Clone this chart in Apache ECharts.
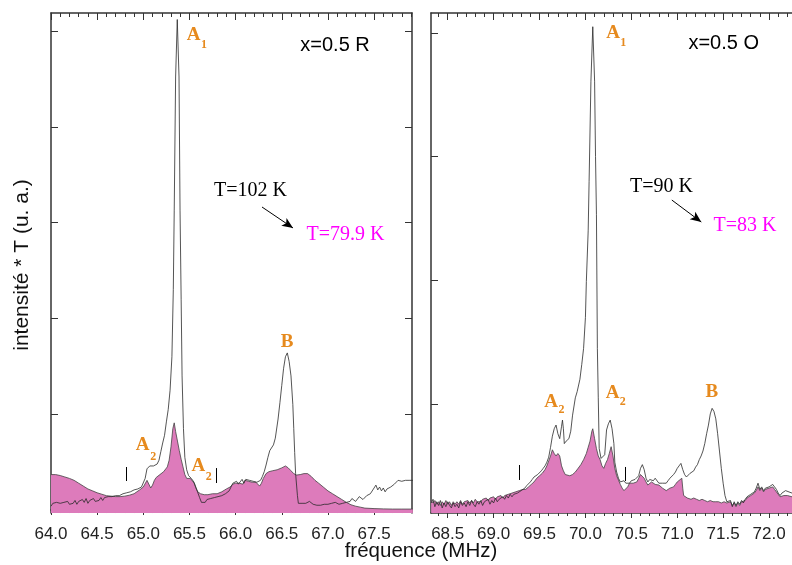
<!DOCTYPE html>
<html>
<head>
<meta charset="utf-8">
<script src="https://cdn.jsdelivr.net/npm/echarts@6/dist/echarts.min.js"></script>
<style>html,body{margin:0;padding:0;background:#fff;}#c{width:792px;height:565px;}</style>
</head>
<body>
<div id="c"></div>
<script>
// ---------- DATA ----------
// Left panel (x=0.5 R), frequency in MHz, intensity*T (u. a.)
const leftT102 = [[64.00,0.04],[64.02,0.07],[64.04,0.05],[64.06,0.08],[64.08,0.06],[64.10,0.07],[64.12,0.05],[64.14,0.08],[64.16,0.07],[64.18,0.09],[64.20,0.06],[64.22,0.08],[64.24,0.07],[64.26,0.10],[64.28,0.06],[64.30,0.09],[64.32,0.07],[64.34,0.11],[64.36,0.08],[64.38,0.12],[64.40,0.07],[64.42,0.10],[64.44,0.09],[64.46,0.12],[64.48,0.09],[64.50,0.11],[64.52,0.10],[64.54,0.13],[64.56,0.10],[64.58,0.13],[64.60,0.11],[64.62,0.14],[64.64,0.12],[64.66,0.14],[64.68,0.12],[64.70,0.15],[64.72,0.13],[64.74,0.15],[64.76,0.14],[64.78,0.17],[64.80,0.15],[64.82,0.18],[64.84,0.16],[64.86,0.19],[64.88,0.17],[64.90,0.21],[64.92,0.19],[64.94,0.22],[64.96,0.21],[64.98,0.24],[65.00,0.26],[65.02,0.33],[65.04,0.43],[65.05,0.45],[65.07,0.46],[65.09,0.44],[65.11,0.46],[65.13,0.45],[65.15,0.48],[65.17,0.52],[65.19,0.61],[65.21,0.70],[65.23,0.78],[65.25,0.92],[65.27,1.05],[65.29,1.25],[65.31,1.60],[65.325,2.30],[65.335,3.13],[65.35,4.52],[65.368,5.12],[65.387,4.52],[65.398,3.13],[65.41,2.20],[65.42,1.40],[65.435,0.85],[65.45,0.55],[65.47,0.42],[65.49,0.36],[65.52,0.33],[65.55,0.29],[65.58,0.21],[65.61,0.13],[65.63,0.08],[65.65,0.10],[65.67,0.08],[65.69,0.11],[65.71,0.10],[65.73,0.12],[65.75,0.11],[65.77,0.13],[65.79,0.12],[65.81,0.14],[65.83,0.13],[65.85,0.15],[65.87,0.14],[65.89,0.17],[65.91,0.18],[65.93,0.20],[65.95,0.24],[65.97,0.28],[65.99,0.26],[66.01,0.30],[66.03,0.27],[66.05,0.29],[66.07,0.32],[66.09,0.28],[66.11,0.32],[66.13,0.30],[66.15,0.31],[66.17,0.33],[66.19,0.30],[66.21,0.32],[66.23,0.29],[66.25,0.28],[66.27,0.31],[66.29,0.35],[66.31,0.40],[66.33,0.47],[66.35,0.55],[66.37,0.62],[66.39,0.64],[66.41,0.68],[66.43,0.75],[66.46,0.95],[66.48,1.12],[66.50,1.30],[66.52,1.48],[66.54,1.60],[66.56,1.64],[66.58,1.55],[66.60,1.40],[66.62,1.10],[66.63,0.85],[66.64,0.60],[66.65,0.38],[66.67,0.15],[66.68,0.07],[66.70,0.05],[66.72,0.07],[66.74,0.08],[66.76,0.07],[66.78,0.08],[66.80,0.09],[66.82,0.08],[66.84,0.06],[66.86,0.04],[66.88,0.05],[66.90,0.03],[66.92,0.05],[66.94,0.04],[66.96,0.06],[66.98,0.05],[67.00,0.06],[67.02,0.05],[67.04,0.07],[67.06,0.06],[67.08,0.08],[67.10,0.07],[67.12,0.06],[67.14,0.08],[67.16,0.07],[67.18,0.09],[67.20,0.08],[67.22,0.10],[67.24,0.09],[67.26,0.12],[67.28,0.10],[67.30,0.09],[67.32,0.11],[67.34,0.14],[67.36,0.12],[67.38,0.11],[67.40,0.13],[67.42,0.15],[67.44,0.14],[67.46,0.17],[67.48,0.19],[67.50,0.23],[67.52,0.26],[67.54,0.21],[67.56,0.24],[67.58,0.20],[67.60,0.23],[67.62,0.19],[67.64,0.22],[67.66,0.21],[67.68,0.24],[67.70,0.23],[67.72,0.27],[67.74,0.29],[67.76,0.31],[67.78,0.32],[67.80,0.30],[67.82,0.32],[67.84,0.31],[67.86,0.29],[67.88,0.31],[67.90,0.30],[67.92,0.31]];
const leftT79 = [[64.00,0.37],[64.05,0.37],[64.10,0.36],[64.15,0.345],[64.20,0.33],[64.25,0.31],[64.30,0.28],[64.35,0.25],[64.40,0.22],[64.45,0.20],[64.50,0.18],[64.55,0.165],[64.60,0.15],[64.65,0.145],[64.70,0.14],[64.75,0.14],[64.80,0.145],[64.85,0.155],[64.90,0.17],[64.93,0.19],[64.96,0.21],[64.98,0.22],[65.00,0.24],[65.02,0.26],[65.04,0.31],[65.05,0.33],[65.06,0.30],[65.08,0.23],[65.10,0.26],[65.12,0.31],[65.14,0.34],[65.16,0.36],[65.18,0.37],[65.20,0.39],[65.22,0.40],[65.24,0.42],[65.26,0.45],[65.28,0.52],[65.30,0.66],[65.32,0.85],[65.335,0.91],[65.35,0.82],[65.37,0.72],[65.39,0.62],[65.41,0.53],[65.43,0.45],[65.45,0.37],[65.47,0.33],[65.49,0.31],[65.51,0.33],[65.53,0.31],[65.55,0.28],[65.57,0.23],[65.59,0.19],[65.62,0.17],[65.66,0.16],[65.70,0.16],[65.75,0.17],[65.80,0.17],[65.85,0.19],[65.90,0.22],[65.94,0.24],[65.97,0.27],[66.00,0.28],[66.02,0.26],[66.04,0.28],[66.06,0.29],[66.08,0.27],[66.10,0.31],[66.12,0.32],[66.14,0.30],[66.16,0.31],[66.18,0.29],[66.20,0.31],[66.22,0.29],[66.24,0.27],[66.26,0.25],[66.28,0.28],[66.30,0.33],[66.33,0.38],[66.36,0.40],[66.40,0.41],[66.45,0.42],[66.50,0.44],[66.54,0.46],[66.57,0.44],[66.60,0.41],[66.63,0.38],[66.66,0.365],[66.70,0.37],[66.74,0.38],[66.78,0.38],[66.82,0.35],[66.86,0.31],[66.90,0.28],[66.95,0.24],[67.00,0.20],[67.05,0.17],[67.10,0.14],[67.15,0.11],[67.20,0.08],[67.25,0.055],[67.30,0.04],[67.35,0.03],[67.40,0.02],[67.50,0.015],[67.60,0.012],[67.70,0.01],[67.80,0.01],[67.92,0.01]];
// Right panel (x=0.5 O)
const rightT90 = [[68.32,0.20],[68.34,0.23],[68.36,0.17],[68.38,0.21],[68.40,0.18],[68.42,0.22],[68.44,0.16],[68.46,0.20],[68.48,0.17],[68.50,0.21],[68.52,0.18],[68.54,0.16],[68.56,0.20],[68.58,0.17],[68.60,0.19],[68.62,0.16],[68.64,0.21],[68.66,0.18],[68.68,0.20],[68.70,0.17],[68.72,0.21],[68.74,0.18],[68.76,0.22],[68.78,0.19],[68.80,0.17],[68.82,0.21],[68.84,0.19],[68.86,0.22],[68.88,0.18],[68.90,0.21],[68.92,0.20],[68.94,0.23],[68.96,0.19],[68.98,0.22],[69.00,0.20],[69.02,0.24],[69.04,0.21],[69.06,0.23],[69.08,0.22],[69.10,0.25],[69.12,0.23],[69.14,0.26],[69.16,0.24],[69.18,0.27],[69.20,0.25],[69.22,0.27],[69.24,0.26],[69.26,0.28],[69.28,0.28],[69.30,0.30],[69.32,0.31],[69.34,0.32],[69.36,0.34],[69.38,0.35],[69.40,0.37],[69.42,0.39],[69.44,0.41],[69.46,0.42],[69.48,0.43],[69.50,0.44],[69.52,0.46],[69.54,0.48],[69.56,0.50],[69.58,0.53],[69.60,0.57],[69.62,0.65],[69.64,0.74],[69.66,0.80],[69.68,0.83],[69.70,0.76],[69.72,0.72],[69.74,0.82],[69.75,0.87],[69.76,0.80],[69.77,0.68],[69.79,0.70],[69.82,0.72],[69.84,0.78],[69.86,0.91],[69.89,1.05],[69.91,1.10],[69.94,1.20],[69.96,1.32],[69.98,1.45],[70.00,1.70],[70.01,1.99],[70.03,2.40],[70.04,2.80],[70.06,3.61],[70.08,4.05],[70.10,3.61],[70.11,3.00],[70.12,2.53],[70.13,1.45],[70.14,1.05],[70.15,0.64],[70.17,0.56],[70.19,0.55],[70.21,0.59],[70.23,0.79],[70.25,0.84],[70.27,0.87],[70.29,0.80],[70.31,0.68],[70.32,0.53],[70.34,0.45],[70.36,0.40],[70.38,0.37],[70.40,0.36],[70.42,0.38],[70.44,0.36],[70.46,0.37],[70.48,0.36],[70.50,0.38],[70.52,0.37],[70.54,0.39],[70.56,0.385],[70.58,0.42],[70.60,0.48],[70.62,0.51],[70.64,0.47],[70.66,0.40],[70.68,0.37],[70.70,0.39],[70.72,0.40],[70.74,0.38],[70.76,0.40],[70.78,0.39],[70.80,0.36],[70.82,0.345],[70.84,0.36],[70.86,0.37],[70.88,0.36],[70.90,0.38],[70.92,0.40],[70.94,0.41],[70.96,0.43],[70.98,0.45],[71.00,0.48],[71.02,0.50],[71.04,0.52],[71.06,0.47],[71.08,0.43],[71.10,0.41],[71.12,0.42],[71.14,0.44],[71.16,0.43],[71.18,0.46],[71.20,0.49],[71.22,0.51],[71.24,0.55],[71.26,0.58],[71.28,0.62],[71.30,0.68],[71.32,0.76],[71.34,0.83],[71.36,0.92],[71.38,0.965],[71.40,0.94],[71.42,0.88],[71.44,0.76],[71.46,0.62],[71.48,0.48],[71.50,0.36],[71.52,0.26],[71.54,0.21],[71.56,0.20],[71.58,0.22],[71.60,0.17],[71.62,0.21],[71.64,0.18],[71.66,0.21],[71.68,0.19],[71.70,0.22],[71.72,0.20],[71.74,0.23],[71.76,0.25],[71.78,0.24],[71.80,0.27],[71.82,0.26],[71.84,0.29],[71.86,0.32],[71.88,0.36],[71.90,0.31],[71.92,0.33],[71.94,0.30],[71.96,0.32],[71.98,0.31],[72.00,0.33],[72.02,0.32],[72.04,0.35],[72.06,0.33],[72.08,0.31],[72.10,0.28],[72.12,0.26],[72.14,0.28],[72.16,0.29],[72.18,0.30],[72.20,0.29],[72.25,0.28]];
const rightT83 = [[68.32,0.22],[68.34,0.20],[68.36,0.22],[68.38,0.19],[68.40,0.21],[68.42,0.18],[68.44,0.21],[68.46,0.19],[68.48,0.22],[68.50,0.19],[68.52,0.21],[68.54,0.18],[68.56,0.21],[68.58,0.19],[68.60,0.21],[68.62,0.19],[68.64,0.22],[68.66,0.19],[68.68,0.21],[68.70,0.20],[68.72,0.22],[68.74,0.20],[68.76,0.22],[68.78,0.20],[68.80,0.23],[68.82,0.21],[68.84,0.22],[68.86,0.21],[68.88,0.23],[68.90,0.22],[68.92,0.24],[68.94,0.22],[68.96,0.24],[68.98,0.23],[69.00,0.25],[69.02,0.23],[69.04,0.25],[69.06,0.24],[69.08,0.26],[69.10,0.24],[69.12,0.26],[69.14,0.25],[69.16,0.27],[69.18,0.26],[69.20,0.28],[69.22,0.27],[69.24,0.29],[69.26,0.28],[69.28,0.30],[69.30,0.29],[69.32,0.31],[69.35,0.31],[69.38,0.33],[69.41,0.35],[69.44,0.37],[69.47,0.40],[69.50,0.42],[69.53,0.44],[69.56,0.47],[69.58,0.50],[69.60,0.54],[69.62,0.58],[69.64,0.63],[69.66,0.60],[69.68,0.58],[69.70,0.60],[69.72,0.58],[69.74,0.50],[69.76,0.46],[69.78,0.43],[69.80,0.42],[69.83,0.42],[69.86,0.43],[69.89,0.45],[69.92,0.48],[69.95,0.51],[69.98,0.55],[70.01,0.60],[70.03,0.65],[70.05,0.70],[70.07,0.78],[70.08,0.80],[70.10,0.72],[70.12,0.64],[70.14,0.58],[70.16,0.55],[70.18,0.50],[70.20,0.48],[70.22,0.52],[70.24,0.55],[70.26,0.60],[70.28,0.655],[70.30,0.58],[70.32,0.48],[70.34,0.42],[70.36,0.385],[70.38,0.35],[70.40,0.32],[70.42,0.30],[70.44,0.29],[70.46,0.33],[70.48,0.36],[70.50,0.35],[70.52,0.36],[70.54,0.37],[70.56,0.37],[70.58,0.40],[70.60,0.43],[70.62,0.44],[70.64,0.40],[70.66,0.37],[70.68,0.345],[70.70,0.36],[70.72,0.37],[70.74,0.36],[70.76,0.35],[70.78,0.36],[70.80,0.345],[70.82,0.33],[70.84,0.32],[70.86,0.31],[70.88,0.30],[70.90,0.31],[70.92,0.32],[70.94,0.315],[70.96,0.33],[70.98,0.35],[71.00,0.37],[71.02,0.38],[71.05,0.40],[71.06,0.32],[71.07,0.26],[71.09,0.25],[71.11,0.24],[71.13,0.24],[71.15,0.23],[71.18,0.24],[71.21,0.23],[71.24,0.22],[71.27,0.23],[71.30,0.22],[71.33,0.21],[71.36,0.22],[71.39,0.21],[71.42,0.21],[71.45,0.21],[71.48,0.20],[71.51,0.21],[71.54,0.20],[71.56,0.19],[71.58,0.21],[71.60,0.18],[71.62,0.20],[71.64,0.17],[71.66,0.20],[71.68,0.18],[71.70,0.21],[71.72,0.20],[71.74,0.22],[71.76,0.24],[71.78,0.23],[71.80,0.26],[71.82,0.25],[71.84,0.28],[71.86,0.30],[71.88,0.33],[71.90,0.30],[71.92,0.32],[71.94,0.29],[71.96,0.31],[71.98,0.30],[72.00,0.32],[72.02,0.31],[72.04,0.33],[72.06,0.31],[72.08,0.29],[72.10,0.27],[72.12,0.25],[72.14,0.24],[72.16,0.26],[72.18,0.27],[72.20,0.26],[72.25,0.25]];

// tick labels
const ticksLeft = [64.0, 64.5, 65.0, 65.5, 66.0, 66.5, 67.0, 67.5];
const ticksRight = [68.5, 69.0, 69.5, 70.0, 70.5, 71.0, 71.5, 72.0];
const yTicksLeft = [1, 2, 3, 4, 5];
const yTicksRight = [1, 2, 3, 4];

// annotations: [text, freq, value, style]
const notesLeft = [['A', 65.544, 4.958, 'big'], ['1', 65.658, 4.854, 'sub'], ['x=0.5 R', 67.077, 4.854, 'sans'],
  ['T=102 K', 66.161, 3.330, 'serif'], ['T=79.9 K', 67.191, 2.871, 'mag'],
  ['A', 64.993, 0.679, 'big'], ['2', 65.108, 0.557, 'sub'], ['A', 65.596, 0.461, 'big'], ['2', 65.710, 0.348, 'sub'],
  ['B', 66.557, 1.754, 'big']];
const notesRight = [['A', 70.302, 3.999, 'big'], ['1', 70.413, 3.918, 'sub'], ['x=0.5 O', 71.506, 3.916, 'sans'],
  ['T=90 K', 70.829, 2.754, 'serif'], ['T=83 K', 71.739, 2.441, 'mag'],
  ['A', 69.627, 1.016, 'big'], ['2', 69.739, 0.951, 'sub'], ['A', 70.296, 1.085, 'big'], ['2', 70.406, 1.019, 'sub'],
  ['B', 71.377, 1.093, 'big']];
// arrows and short markers: [f1, v1, f2, v2, arrow?]
const linesLeft = [[66.286, 3.163, 66.622, 2.944, true], [64.813, 0.449, 64.813, 0.303, false], [65.788, 0.438, 65.788, 0.282, false]];
const linesRight = [[70.941, 2.649, 71.262, 2.471, true], [69.282, 0.507, 69.282, 0.386, false], [70.438, 0.491, 70.438, 0.378, false]];

// ---------- CHART ----------
const ORANGE = '#E68A1E', MAG = '#FF00FF', FILL = '#DD7BBB';
const styles = {
  big: {fontFamily: 'Liberation Serif', fontWeight: 'bold', fontSize: 19, color: ORANGE},
  sub: {fontFamily: 'Liberation Serif', fontWeight: 'bold', fontSize: 12, color: ORANGE},
  sans: {fontFamily: 'Liberation Sans', fontSize: 20, color: '#000'},
  serif: {fontFamily: 'Liberation Serif', fontSize: 20, color: '#000'},
  mag: {fontFamily: 'Liberation Serif', fontSize: 20, color: MAG}
};
function minorOf(a, b) {
  const out = [];
  for (let k = Math.round(a * 10); k <= Math.round(b * 10); k++) { if (k % 5 !== 0) out.push(k / 10); }
  return out;
}
const AX = '#333';
function xAxes(gi, min, max, major) {
  const minor = minorOf(min, max);
  const base = {type: 'value', gridIndex: gi, min: min, max: max, splitLine: {show: false}};
  return [
    Object.assign({}, base, {position: 'bottom', axisLine: {show: true, lineStyle: {color: AX, width: 1.5}},
      axisTick: {show: true, inside: false, length: 5, customValues: major, lineStyle: {color: AX}},
      axisLabel: {show: true, customValues: major, margin: 13, fontSize: 17, color: '#222', fontFamily: 'Liberation Sans', formatter: v => v.toFixed(1)}}),
    Object.assign({}, base, {position: 'bottom', axisLine: {show: false},
      axisTick: {show: true, inside: false, length: 3, customValues: minor, lineStyle: {color: AX}}, axisLabel: {show: false}}),
    Object.assign({}, base, {position: 'top', axisLine: {show: true, lineStyle: {color: AX, width: 1.5}},
      axisTick: {show: true, inside: true, length: 7, customValues: major, lineStyle: {color: AX}}, axisLabel: {show: false}}),
    Object.assign({}, base, {position: 'top', axisLine: {show: false},
      axisTick: {show: true, inside: true, length: 4, customValues: minor, lineStyle: {color: AX}}, axisLabel: {show: false}})
  ];
}
function yAxis(gi, min, max, ticks, pos) {
  return {type: 'value', gridIndex: gi, min: min, max: max, position: pos, splitLine: {show: false},
    axisLine: {show: true, onZero: false, lineStyle: {color: AX, width: 1.5}},
    axisTick: {show: true, inside: true, length: 7, customValues: ticks, lineStyle: {color: AX}},
    axisLabel: {show: false}};
}
function marks(notes, lines) {
  return {
    markPoint: {silent: true, animation: false, symbol: 'circle', symbolSize: 1, itemStyle: {color: 'rgba(0,0,0,0)'},
      data: notes.map(n => ({coord: [n[1], n[2]], label: Object.assign({show: true, position: 'inside', formatter: n[0]}, styles[n[3]])}))},
    markLine: {silent: true, animation: false, symbolSize: [7, 11], label: {show: false},
      lineStyle: {color: '#000', width: 1, type: 'solid'},
      data: lines.map(l => [{coord: [l[0], l[1]], symbol: 'none'}, {coord: [l[2], l[3]], symbol: l[4] ? 'arrow' : 'none'}])}
  };
}
function fillSeries(xi, yi, data, notes, lines) {
  return Object.assign({type: 'line', xAxisIndex: xi, yAxisIndex: yi, data: data, showSymbol: false, symbol: 'none', z: 2,
    lineStyle: {color: '#444', width: 0.8}, areaStyle: {color: FILL, opacity: 1, origin: 'start'}}, marks(notes, lines));
}
function lineSeries(xi, yi, data) {
  return {type: 'line', xAxisIndex: xi, yAxisIndex: yi, data: data, showSymbol: false, symbol: 'none', z: 3,
    lineStyle: {color: '#2a2a2a', width: 0.8}};
}

const chart = echarts.init(document.getElementById('c'), null, {renderer: 'canvas'});
chart.setOption({
  animation: false,
  backgroundColor: '#fff',
  grid: [
    {left: 51, top: 13, width: 361, height: 500},
    {left: 431, top: 13, width: 367, height: 500}
  ],
  xAxis: [].concat(xAxes(0, 64.0, 67.911, ticksLeft), xAxes(1, 68.318, 72.25, ticksRight)),
  yAxis: [yAxis(0, -0.031, 5.188, yTicksLeft, 'left'), yAxis(0, -0.031, 5.188, yTicksLeft, 'right'),
          yAxis(1, 0.119, 4.161, yTicksRight, 'left')],
  series: [
    fillSeries(0, 0, leftT79, notesLeft, linesLeft),
    lineSeries(0, 0, leftT102),
    fillSeries(4, 2, rightT83, notesRight, linesRight),
    lineSeries(4, 2, rightT90)
  ],
  graphic: [
    {type: 'text', x: 22, y: 265, rotation: Math.PI / 2, style: {text: 'intensité * T (u. a.)', fontFamily: 'Liberation Sans', fontSize: 21, fill: '#111', textAlign: 'center', textVerticalAlign: 'middle'}},
    {type: 'text', x: 421, y: 551, style: {text: 'fréquence (MHz)', fontFamily: 'Liberation Sans', fontSize: 20.5, fill: '#111', textAlign: 'center', textVerticalAlign: 'middle'}}
  ]
});
</script>
</body>
</html>
